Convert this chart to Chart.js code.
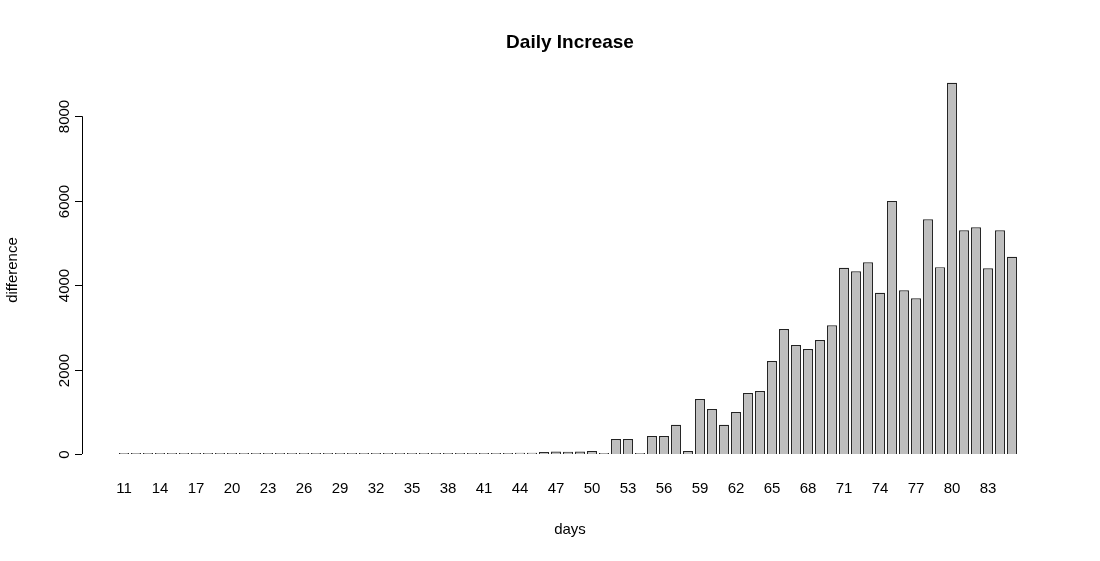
<!DOCTYPE html><html><head><meta charset="utf-8">
<script src="https://cdn.jsdelivr.net/npm/chart.js@4"></script>
<style>html,body{margin:0;background:#fff}#w{width:1100px;height:561px}</style></head><body><div id="w"><canvas id="c"></canvas></div>
<script>
const days = Array.from({length:75},(_,i)=>String(11+i));
const difference = [0,0,0,0,0,0,0,0,0,0, 0,0,0,0,0,0,0,0,0,0, 0,0,0,0,0,0,0,0,0,5,
 10,15,15,30,30,50,60,55,60,70, 0,355,355,0,425,425,690,70,1300,1065,
 690,995,1445,1490,2200,2960,2580,2485,2700,3050, 4410,4330,4540,3820,5995,3880,3690,5560,4425,8790,
 5300,5370,4400,5300,4670];
const yTicks = [0,2000,4000,6000,8000];
const FONT = '"Liberation Sans", Arial, sans-serif';
const deco = {id:'deco', afterDraw(ch){
  const c=ch.ctx, x=ch.scales.x, y=ch.scales.y;
  c.save(); c.fillStyle='#000'; c.strokeStyle='#000'; c.lineWidth=1;
  c.font='bold 19px '+FONT; c.textAlign='center'; c.textBaseline='middle';
  c.fillText('Daily Increase',570,43);
  c.font='15px '+FONT;
  const ax=82;
  c.beginPath(); c.moveTo(ax+0.5,y.getPixelForValue(0)); c.lineTo(ax+0.5,y.getPixelForValue(8000)); c.stroke();
  yTicks.forEach(v=>{const p=Math.round(y.getPixelForValue(v))+0.5;
    c.beginPath(); c.moveTo(ax-7,p); c.lineTo(ax,p); c.stroke();
    c.save(); c.translate(ax-17,p); c.rotate(-Math.PI/2); c.fillText(String(v),0,0); c.restore();});
  days.forEach((d,i)=>{ if(i%3===0) c.fillText(d,x.getPixelForValue(i),489); });
  c.fillText('days',570,530);
  c.save(); c.translate(13,270); c.rotate(-Math.PI/2); c.fillText('difference',0,0); c.restore();
  c.restore();
}};
new Chart(document.getElementById('c'),{type:'bar',
 data:{labels:days,datasets:[{data:difference,backgroundColor:'#bebebe',borderColor:'#222',borderWidth:1.2,
   categoryPercentage:1,barPercentage:0.83,minBarLength:1}]},
 options:{responsive:true,maintainAspectRatio:false,animation:false,
  layout:{padding:{left:118,right:82,top:74,bottom:107}},
  plugins:{legend:{display:false},tooltip:{enabled:false}},
  scales:{x:{display:false,offset:true},y:{display:false,min:0,max:9000}}},
 plugins:[deco]});
</script></body></html>
